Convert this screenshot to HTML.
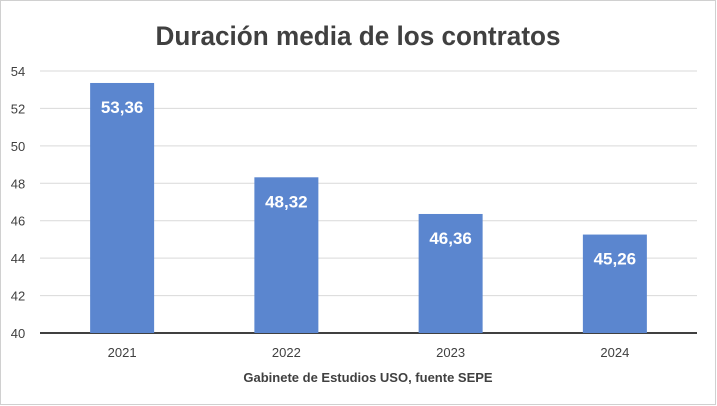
<!DOCTYPE html>
<html><head><meta charset="utf-8"><style>
body{margin:0;background:#fff;}
svg{display:block;font-family:"Liberation Sans",sans-serif;}
</style></head><body>
<svg id="chart" width="717" height="406">
<rect x="0.5" y="0.5" width="715" height="404" fill="#fff" stroke="#d0d0d0"/>
<text x="358" y="45" text-anchor="middle" font-size="27" font-weight="bold" fill="#404040" textLength="405" lengthAdjust="spacingAndGlyphs">Duración media de los contratos</text>
<g id="grid"></g><g id="bars"></g><g id="labels"></g>
<text x="368" y="382" text-anchor="middle" font-size="13" font-weight="bold" fill="#404040">Gabinete de Estudios USO, fuente SEPE</text>
</svg>
<script>
const categories=["2021","2022","2023","2024"];
const values=[53.36,48.32,46.36,45.26];
const valueLabels=["53,36","48,32","46,36","45,26"];
const yTicks=[40,42,44,46,48,50,52,54];
const NS="http://www.w3.org/2000/svg";
const x0=40,x1=697,yB=333,yT=71,ymin=40,ymax=54;
const y=v=>yB-(v-ymin)/(ymax-ymin)*(yB-yT);
const bw=(x1-x0)/categories.length;
const xc=i=>x0+bw*(i+0.5);
function mk(tag,attrs,parent){const e=document.createElementNS(NS,tag);for(const k in attrs)e.setAttribute(k,attrs[k]);parent.appendChild(e);return e;}
const grid=document.getElementById('grid'),bars=document.getElementById('bars'),labels=document.getElementById('labels');
yTicks.forEach(t=>{
  const l=mk('line',{x1:x0,x2:x1,y1:y(t),y2:y(t),stroke:t===ymin?'#404040':'#d9d9d9','stroke-width':t===ymin?2:1},grid);
  
  
  const tx=mk('text',{x:18,y:y(t)+5,'text-anchor':'middle','font-size':13,fill:'#404040'},grid);
  tx.textContent=t;
  
  
});
categories.forEach((c,i)=>{
  const r=mk('rect',{x:xc(i)-32,width:64,y:y(values[i]),height:yB-y(values[i]),fill:'#5b86cf'},bars);
  
  
  const v=mk('text',{x:xc(i),y:y(values[i])+30,'text-anchor':'middle','font-size':17,'font-weight':'bold',fill:'#fff'},labels);
  v.textContent=valueLabels[i];
  
  
  const t=mk('text',{x:xc(i),y:357,'text-anchor':'middle','font-size':13,fill:'#404040'},labels);
  t.textContent=c;
  
  
});
</script>
</body></html>
